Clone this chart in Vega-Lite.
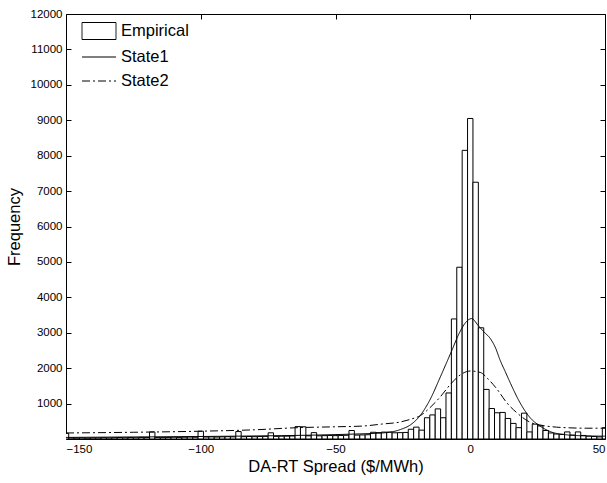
{
  "$schema": "https://vega.github.io/schema/vega-lite/v6.json",
  "autosize": {"type": "none"},
  "width": 539,
  "height": 425,
  "padding": {"left": 66, "top": 14, "right": 2, "bottom": 44},
  "background": "white",
  "config": {
    "view": {"stroke": "black", "strokeWidth": 1},
    "font": "Liberation Sans",
    "axis": {"domain": false, "grid": false, "tickColor": "black", "tickSize": -5, "tickWidth": 1,
      "labelFont": "Liberation Sans", "labelFontSize": 11.5, "labelColor": "black", "labelPadding": 9,
      "titleFont": "Liberation Sans", "titleFontSize": 16.5, "titleFontWeight": "normal", "titleColor": "black"},
    "legend": {"orient": "none", "legendX": 24, "legendY": 8, "title": null,
      "labelFont": "Liberation Sans", "labelFontSize": 16.5, "labelColor": "black",
      "symbolSize": 289, "labelOffset": 13, "rowPadding": 6,
      "symbolStrokeColor": "black", "symbolStrokeWidth": 1, "symbolFillColor": "transparent"}
  },
  "datasets": {
    "hist": [
      {"bin_start": -151, "bin_end": -149, "count": 160},
      {"bin_start": -149, "bin_end": -147, "count": 30},
      {"bin_start": -147, "bin_end": -145, "count": 25},
      {"bin_start": -145, "bin_end": -143, "count": 30},
      {"bin_start": -143, "bin_end": -141, "count": 25},
      {"bin_start": -141, "bin_end": -139, "count": 30},
      {"bin_start": -139, "bin_end": -137, "count": 30},
      {"bin_start": -137, "bin_end": -135, "count": 35},
      {"bin_start": -135, "bin_end": -133, "count": 30},
      {"bin_start": -133, "bin_end": -131, "count": 35},
      {"bin_start": -131, "bin_end": -129, "count": 40},
      {"bin_start": -129, "bin_end": -127, "count": 35},
      {"bin_start": -127, "bin_end": -125, "count": 40},
      {"bin_start": -125, "bin_end": -123, "count": 35},
      {"bin_start": -123, "bin_end": -121, "count": 45},
      {"bin_start": -121, "bin_end": -119, "count": 40},
      {"bin_start": -119, "bin_end": -117, "count": 200},
      {"bin_start": -117, "bin_end": -115, "count": 45},
      {"bin_start": -115, "bin_end": -113, "count": 40},
      {"bin_start": -113, "bin_end": -111, "count": 45},
      {"bin_start": -111, "bin_end": -109, "count": 50},
      {"bin_start": -109, "bin_end": -107, "count": 45},
      {"bin_start": -107, "bin_end": -105, "count": 50},
      {"bin_start": -105, "bin_end": -103, "count": 55},
      {"bin_start": -103, "bin_end": -101, "count": 50},
      {"bin_start": -101, "bin_end": -99, "count": 220},
      {"bin_start": -99, "bin_end": -97, "count": 55},
      {"bin_start": -97, "bin_end": -95, "count": 60},
      {"bin_start": -95, "bin_end": -93, "count": 55},
      {"bin_start": -93, "bin_end": -91, "count": 60},
      {"bin_start": -91, "bin_end": -89, "count": 65},
      {"bin_start": -89, "bin_end": -87, "count": 60},
      {"bin_start": -87, "bin_end": -85, "count": 210},
      {"bin_start": -85, "bin_end": -83, "count": 65},
      {"bin_start": -83, "bin_end": -81, "count": 70},
      {"bin_start": -81, "bin_end": -79, "count": 65},
      {"bin_start": -79, "bin_end": -77, "count": 70},
      {"bin_start": -77, "bin_end": -75, "count": 75},
      {"bin_start": -75, "bin_end": -73, "count": 175},
      {"bin_start": -73, "bin_end": -71, "count": 75},
      {"bin_start": -71, "bin_end": -69, "count": 80},
      {"bin_start": -69, "bin_end": -67, "count": 80},
      {"bin_start": -67, "bin_end": -65, "count": 85},
      {"bin_start": -65, "bin_end": -63, "count": 350},
      {"bin_start": -63, "bin_end": -61, "count": 345},
      {"bin_start": -61, "bin_end": -59, "count": 90},
      {"bin_start": -59, "bin_end": -57, "count": 180},
      {"bin_start": -57, "bin_end": -55, "count": 90},
      {"bin_start": -55, "bin_end": -53, "count": 95},
      {"bin_start": -53, "bin_end": -51, "count": 100},
      {"bin_start": -51, "bin_end": -49, "count": 95},
      {"bin_start": -49, "bin_end": -47, "count": 100},
      {"bin_start": -47, "bin_end": -45, "count": 105},
      {"bin_start": -45, "bin_end": -43, "count": 240},
      {"bin_start": -43, "bin_end": -41, "count": 110},
      {"bin_start": -41, "bin_end": -39, "count": 115},
      {"bin_start": -39, "bin_end": -37, "count": 120},
      {"bin_start": -37, "bin_end": -35, "count": 190},
      {"bin_start": -35, "bin_end": -33, "count": 180},
      {"bin_start": -33, "bin_end": -31, "count": 195},
      {"bin_start": -31, "bin_end": -29, "count": 195},
      {"bin_start": -29, "bin_end": -27, "count": 175},
      {"bin_start": -27, "bin_end": -25, "count": 180},
      {"bin_start": -25, "bin_end": -23, "count": 185},
      {"bin_start": -23, "bin_end": -21, "count": 275},
      {"bin_start": -21, "bin_end": -19, "count": 335},
      {"bin_start": -19, "bin_end": -17, "count": 250},
      {"bin_start": -17, "bin_end": -15, "count": 600},
      {"bin_start": -15, "bin_end": -13, "count": 680},
      {"bin_start": -13, "bin_end": -11, "count": 850},
      {"bin_start": -11, "bin_end": -9, "count": 600},
      {"bin_start": -9, "bin_end": -7, "count": 1300},
      {"bin_start": -7, "bin_end": -5, "count": 3390},
      {"bin_start": -5, "bin_end": -3, "count": 4850},
      {"bin_start": -3, "bin_end": -1, "count": 8150},
      {"bin_start": -1, "bin_end": 1, "count": 9050},
      {"bin_start": 1, "bin_end": 3, "count": 7250},
      {"bin_start": 3, "bin_end": 5, "count": 3140},
      {"bin_start": 5, "bin_end": 7, "count": 1400},
      {"bin_start": 7, "bin_end": 9, "count": 860},
      {"bin_start": 9, "bin_end": 11, "count": 740},
      {"bin_start": 11, "bin_end": 13, "count": 750},
      {"bin_start": 13, "bin_end": 15, "count": 580},
      {"bin_start": 15, "bin_end": 17, "count": 440},
      {"bin_start": 17, "bin_end": 19, "count": 320},
      {"bin_start": 19, "bin_end": 21, "count": 730},
      {"bin_start": 21, "bin_end": 23, "count": 200},
      {"bin_start": 23, "bin_end": 25, "count": 420},
      {"bin_start": 25, "bin_end": 27, "count": 370},
      {"bin_start": 27, "bin_end": 29, "count": 240},
      {"bin_start": 29, "bin_end": 31, "count": 170},
      {"bin_start": 31, "bin_end": 33, "count": 140},
      {"bin_start": 33, "bin_end": 35, "count": 130},
      {"bin_start": 35, "bin_end": 37, "count": 200},
      {"bin_start": 37, "bin_end": 39, "count": 110},
      {"bin_start": 39, "bin_end": 41, "count": 200},
      {"bin_start": 41, "bin_end": 43, "count": 100},
      {"bin_start": 43, "bin_end": 45, "count": 80},
      {"bin_start": 45, "bin_end": 47, "count": 70},
      {"bin_start": 47, "bin_end": 49, "count": 60},
      {"bin_start": 49, "bin_end": 51, "count": 320}
    ],
    "fits": [
      {"x": -150, "value": 45, "series": "State1"},
      {"x": -130, "value": 55, "series": "State1"},
      {"x": -110, "value": 65, "series": "State1"},
      {"x": -90, "value": 78, "series": "State1"},
      {"x": -70, "value": 95, "series": "State1"},
      {"x": -55, "value": 115, "series": "State1"},
      {"x": -45, "value": 135, "series": "State1"},
      {"x": -37, "value": 155, "series": "State1"},
      {"x": -30, "value": 190, "series": "State1"},
      {"x": -26, "value": 265, "series": "State1"},
      {"x": -22, "value": 410, "series": "State1"},
      {"x": -18.5, "value": 670, "series": "State1"},
      {"x": -15, "value": 1100, "series": "State1"},
      {"x": -11, "value": 1770, "series": "State1"},
      {"x": -7, "value": 2470, "series": "State1"},
      {"x": -4, "value": 3000, "series": "State1"},
      {"x": -2, "value": 3260, "series": "State1"},
      {"x": 0.5, "value": 3400, "series": "State1"},
      {"x": 3, "value": 3200, "series": "State1"},
      {"x": 5, "value": 3030, "series": "State1"},
      {"x": 7.5, "value": 2830, "series": "State1"},
      {"x": 9.5, "value": 2550, "series": "State1"},
      {"x": 11, "value": 2240, "series": "State1"},
      {"x": 13, "value": 1900, "series": "State1"},
      {"x": 15, "value": 1560, "series": "State1"},
      {"x": 18.5, "value": 1020, "series": "State1"},
      {"x": 22, "value": 620, "series": "State1"},
      {"x": 26, "value": 360, "series": "State1"},
      {"x": 30, "value": 200, "series": "State1"},
      {"x": 35, "value": 125, "series": "State1"},
      {"x": 40, "value": 95, "series": "State1"},
      {"x": 50, "value": 80, "series": "State1"},
      {"x": -150, "value": 170, "series": "State2"},
      {"x": -125, "value": 190, "series": "State2"},
      {"x": -100, "value": 220, "series": "State2"},
      {"x": -80, "value": 260, "series": "State2"},
      {"x": -64, "value": 320, "series": "State2"},
      {"x": -50, "value": 345, "series": "State2"},
      {"x": -40, "value": 365, "series": "State2"},
      {"x": -33, "value": 420, "series": "State2"},
      {"x": -26, "value": 480, "series": "State2"},
      {"x": -22, "value": 560, "series": "State2"},
      {"x": -18.5, "value": 660, "series": "State2"},
      {"x": -15, "value": 880, "series": "State2"},
      {"x": -11, "value": 1200, "series": "State2"},
      {"x": -7.5, "value": 1530, "series": "State2"},
      {"x": -3.7, "value": 1810, "series": "State2"},
      {"x": 0, "value": 1920, "series": "State2"},
      {"x": 3.7, "value": 1880, "series": "State2"},
      {"x": 6.8, "value": 1680, "series": "State2"},
      {"x": 10, "value": 1400, "series": "State2"},
      {"x": 13.6, "value": 1020, "series": "State2"},
      {"x": 17.3, "value": 740, "series": "State2"},
      {"x": 22, "value": 480, "series": "State2"},
      {"x": 27, "value": 380, "series": "State2"},
      {"x": 32, "value": 335, "series": "State2"},
      {"x": 37, "value": 315, "series": "State2"},
      {"x": 43, "value": 305, "series": "State2"},
      {"x": 50, "value": 305, "series": "State2"}
    ]
  },
  "layer": [
    {
      "data": {"name": "hist"},
      "mark": {"type": "rect", "fill": "white", "stroke": "black", "strokeWidth": 1, "clip": true},
      "encoding": {
        "x": {"field": "bin_start", "type": "quantitative",
          "scale": {"domain": [-150, 50], "nice": false, "zero": false},
          "axis": {"orient": "bottom", "values": [-150, -100, -50, 0, 50], "title": "DA-RT Spread ($/MWh)", "titlePadding": 4}},
        "x2": {"field": "bin_end"},
        "y": {"field": "count", "type": "quantitative",
          "scale": {"domain": [0, 12000], "nice": false},
          "axis": {"orient": "left", "values": [1000, 2000, 3000, 4000, 5000, 6000, 7000, 8000, 9000, 10000, 11000, 12000], "title": "Frequency", "titlePadding": 8, "format": "d"}},
        "y2": {"datum": 0}
      }
    },
    {
      "data": {"name": "fits"},
      "mark": {"type": "line", "color": "black", "strokeWidth": 1, "interpolate": "monotone", "clip": true},
      "encoding": {
        "x": {"field": "x", "type": "quantitative",
          "axis": {"orient": "top", "values": [-150, -100, -50, 0, 50], "labels": false, "title": null}},
        "y": {"field": "value", "type": "quantitative",
          "axis": {"orient": "right", "values": [1000, 2000, 3000, 4000, 5000, 6000, 7000, 8000, 9000, 10000, 11000, 12000], "labels": false, "title": null}},
        "strokeDash": {"field": "series", "type": "nominal",
          "scale": {"domain": ["Empirical", "State1", "State2"], "range": [[1, 0], [1, 0], [8, 3, 2, 3]]},
          "legend": {
            "orient": "none", "legendX": 24, "legendY": 8, "title": null,
            "encode": {"symbols": {"update": {
              "shape": {"signal": "datum.value === 'Empirical' ? 'M-2,-1H2V1H-2Z' : 'M-2,0H2'"},
              "fill": {"value": "transparent"},
              "stroke": {"value": "black"},
              "strokeWidth": {"value": 1}
            }}}
          }},
        "detail": {"field": "series"}
      }
    }
  ],
  "resolve": {"axis": {"x": "independent", "y": "independent"}}
}
